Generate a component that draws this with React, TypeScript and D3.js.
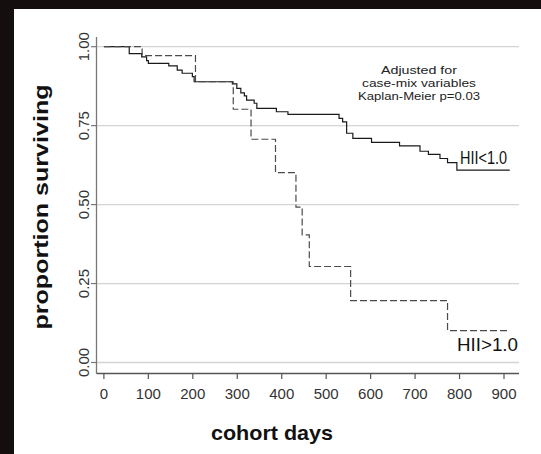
import React, { useRef, useEffect } from "react";
import * as d3 from "d3";

// HII < 1.0 (solid) - step times in days and survival after each step
const lowDays = [0, 57, 85, 96, 100, 146, 165, 176, 199, 203, 289, 299, 308, 316, 321, 338, 344, 388, 414, 529, 537, 546, 560, 602, 665, 711, 730, 756, 773, 794];
const lowSurv = [1, 0.978, 0.968, 0.956, 0.947, 0.939, 0.926, 0.916, 0.905, 0.889, 0.882, 0.868, 0.854, 0.844, 0.831, 0.821, 0.805, 0.794, 0.786, 0.773, 0.762, 0.726, 0.71, 0.697, 0.686, 0.669, 0.659, 0.646, 0.633, 0.609];

// HII > 1.0 (dashed)
const highDays = [0, 86, 206, 291, 331, 386, 432, 446, 462, 555, 773];
const highSurv = [1, 0.972, 0.889, 0.802, 0.707, 0.601, 0.492, 0.404, 0.304, 0.196, 0.101];

const lastDay = 913;
const xTicks = [0, 100, 200, 300, 400, 500, 600, 700, 800, 900];
const yTicks = [0, 0.25, 0.5, 0.75, 1];
const noteLines = ["Adjusted for", "case-mix variables", "Kaplan-Meier p=0.03"];
const noteWidths = [76, 114, 122];

const W = 541;
const H = 454;

const KMChart = () => {
  const svgRef = useRef(null);

  useEffect(() => {
    const svg = d3.select(svgRef.current);
    svg.selectAll("*").remove();

    const x = d3.scaleLinear().domain([0, 900]).range([103.9, 504]);
    const y = d3.scaleLinear().domain([0, 1]).range([362.5, 46.7]);
    const axisX = 96.5;
    const axisY = 373.5;
    const right = 519;

    // frame
    svg.append("rect").attr("width", W).attr("height", H).attr("fill", "#140e0e");
    svg.append("rect").attr("x", 14).attr("y", 9).attr("width", W - 14).attr("height", H - 9).attr("fill", "#fff");

    // grid
    svg
      .selectAll(".grid")
      .data(yTicks)
      .join("line")
      .attr("x1", axisX)
      .attr("x2", right)
      .attr("y1", (d) => y(d))
      .attr("y2", (d) => y(d))
      .attr("stroke", "#d4d4d4")
      .attr("stroke-width", 1.3);

    // y axis
    svg.append("line").attr("x1", axisX).attr("x2", axisX).attr("y1", 37).attr("y2", axisY).attr("stroke", "#777").attr("stroke-width", 1.3);
    svg
      .selectAll(".ytick")
      .data(yTicks)
      .join("line")
      .attr("x1", axisX - 5.5)
      .attr("x2", axisX)
      .attr("y1", (d) => y(d))
      .attr("y2", (d) => y(d))
      .attr("stroke", "#777")
      .attr("stroke-width", 1.2);
    svg
      .selectAll(".ylab")
      .data(yTicks)
      .join("text")
      .attr("transform", (d) => `translate(89,${y(d)}) rotate(-90)`)
      .attr("text-anchor", "middle")
      .attr("font-size", 15)
      .attr("fill", "#333")
      .text((d) => d3.format(".2f")(d));

    // x axis
    svg.append("line").attr("x1", axisX).attr("x2", right).attr("y1", axisY).attr("y2", axisY).attr("stroke", "#555").attr("stroke-width", 1.3);
    svg
      .selectAll(".xtick")
      .data(xTicks)
      .join("line")
      .attr("x1", (d) => x(d))
      .attr("x2", (d) => x(d))
      .attr("y1", axisY)
      .attr("y2", axisY + 5.5)
      .attr("stroke", "#555")
      .attr("stroke-width", 1.2);
    svg
      .selectAll(".xlab")
      .data(xTicks)
      .join("text")
      .attr("x", (d) => x(d))
      .attr("y", 399)
      .attr("text-anchor", "middle")
      .attr("font-size", 15)
      .attr("fill", "#333")
      .text((d) => d);

    // axis titles
    svg
      .append("text")
      .attr("x", 272)
      .attr("y", 440)
      .attr("text-anchor", "middle")
      .attr("font-size", 21)
      .attr("font-weight", "bold")
      .attr("fill", "#111")
      .attr("textLength", 122)
      .attr("lengthAdjust", "spacingAndGlyphs")
      .text("cohort days");
    svg
      .append("text")
      .attr("transform", "translate(48,207) rotate(-90)")
      .attr("text-anchor", "middle")
      .attr("font-size", 20)
      .attr("font-weight", "bold")
      .attr("fill", "#111")
      .attr("textLength", 245)
      .attr("lengthAdjust", "spacingAndGlyphs")
      .text("proportion surviving");

    // curves
    const line = d3
      .line()
      .curve(d3.curveStepAfter)
      .x((d) => x(d[0]))
      .y((d) => y(d[1]));

    const lowPts = lowDays.map((d, i) => [d, lowSurv[i]]);
    lowPts.push([lastDay, lowSurv[lowSurv.length - 1]]);
    const highPts = highDays.map((d, i) => [d, highSurv[i]]);
    highPts.push([lastDay, highSurv[highSurv.length - 1]]);

    svg.append("path").attr("d", line(lowPts)).attr("fill", "none").attr("stroke", "#1a1a1a").attr("stroke-width", 1.2);
    svg
      .append("path")
      .attr("d", line(highPts))
      .attr("fill", "none")
      .attr("stroke", "#4a4a4a")
      .attr("stroke-width", 1.2)
      .attr("stroke-dasharray", "7,3");

    // labels
    svg
      .append("text")
      .attr("x", 507)
      .attr("y", 163.5)
      .attr("text-anchor", "end")
      .attr("font-size", 19)
      .attr("fill", "#111")
      .attr("textLength", 47)
      .attr("lengthAdjust", "spacingAndGlyphs")
      .text("HII<1.0");
    svg
      .append("text")
      .attr("x", 518)
      .attr("y", 351)
      .attr("text-anchor", "end")
      .attr("font-size", 19)
      .attr("fill", "#111")
      .attr("textLength", 61)
      .attr("lengthAdjust", "spacingAndGlyphs")
      .text("HII>1.0");

    // note
    svg
      .selectAll(".note")
      .data(noteLines)
      .join("text")
      .attr("x", 419)
      .attr("y", (d, i) => 74 + i * 13)
      .attr("text-anchor", "middle")
      .attr("font-size", 11.5)
      .attr("fill", "#222")
      .attr("textLength", (d, i) => noteWidths[i])
      .attr("lengthAdjust", "spacingAndGlyphs")
      .text((d) => d);
  }, []);

  return (
    <svg
      ref={svgRef}
      width={W}
      height={H}
      style={{ position: "absolute", left: 0, top: 0, fontFamily: "'Liberation Sans', Arial, sans-serif" }}
    ></svg>
  );
};

export default function App() {
  return <KMChart />;
}
